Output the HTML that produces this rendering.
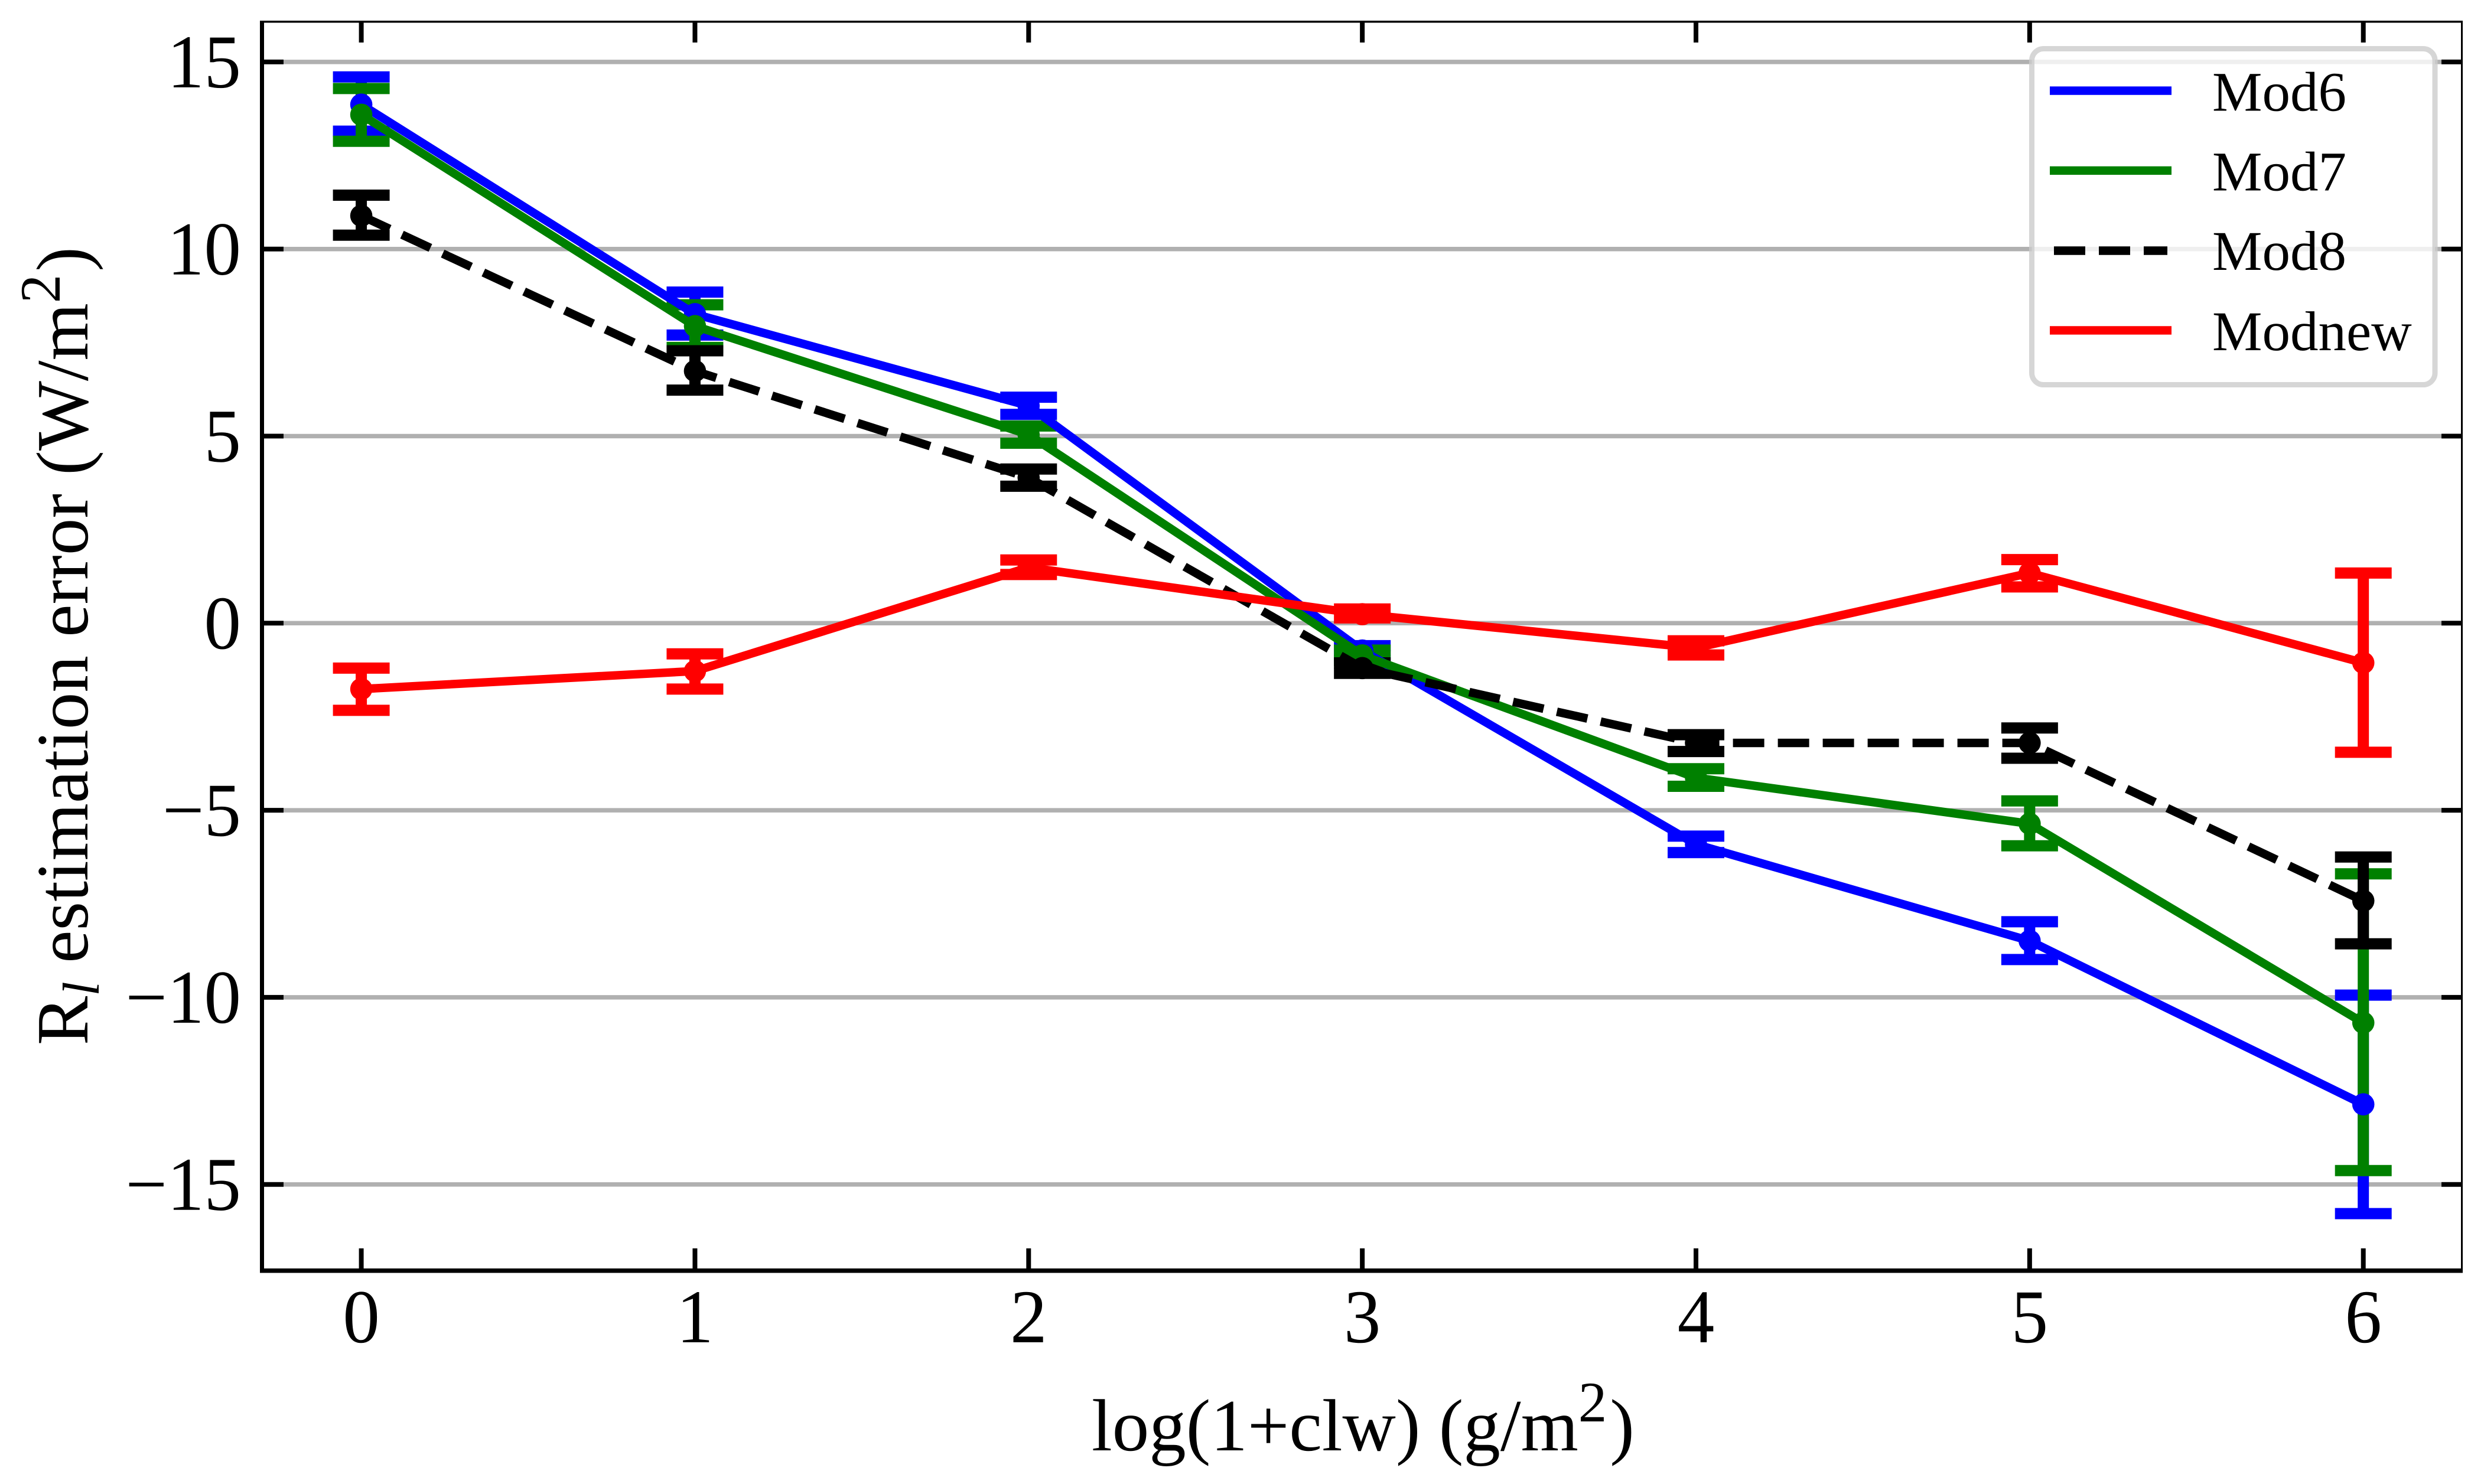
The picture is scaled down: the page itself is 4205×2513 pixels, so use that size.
<!DOCTYPE html>
<html lang="en">
<head>
<meta charset="utf-8">
<title>Rl estimation error vs log(1+clw)</title>
<style>
html,body{margin:0;padding:0;background:#fff;width:4205px;height:2513px;overflow:hidden}
svg{display:block;font-family:"Liberation Serif","DejaVu Serif",serif;text-rendering:geometricPrecision}
</style>
</head>
<body>
<svg xmlns="http://www.w3.org/2000/svg" width="4205" height="2513" viewBox="0 0 4205 2513">
  <rect x="0" y="0" width="4205" height="2513" fill="#ffffff"/>
  <g id="grid-layer"></g>
  <g id="bar-layer"></g>
  <g id="line-layer"></g>
  <g id="tick-layer"></g>
  <g>
    <rect x="440" y="35" width="7" height="2120" fill="#000"/>
    <rect x="440" y="2148" width="3729" height="7.5" fill="#000"/>
    <rect x="440" y="35" width="3729" height="3.5" fill="#000"/>
    <rect x="4166" y="35" width="3" height="2120" fill="#000"/>
  </g>
  <g id="label-layer"></g>
  <text x="1848" y="2456" font-size="125" fill="#000">log(1+clw) (g/m<tspan font-size="97" dy="-49">2</tspan><tspan dy="49" dx="5">)</tspan></text>
  <text transform="translate(148 1770) rotate(-90)" x="0" y="0" font-size="125" fill="#000">R<tspan font-size="88" font-style="italic" dy="19">l</tspan><tspan dy="-19"> estimation error (W/m</tspan><tspan font-size="97" dy="-47">2</tspan><tspan dy="47" dx="5">)</tspan></text>
  <g>
    <rect x="3439.5" y="82.5" width="682.5" height="569" rx="20" ry="20" fill="#ffffff" fill-opacity="0.8" stroke="#cccccc" stroke-opacity="0.8" stroke-width="9"/>
    <line x1="3470" x2="3676" y1="153.6" y2="153.6" stroke="#0000ff" stroke-width="14.4"/>
    <line x1="3470" x2="3676" y1="288.8" y2="288.8" stroke="#008000" stroke-width="14.4"/>
    <line x1="3477" x2="3669" y1="424.5" y2="424.5" stroke="#000000" stroke-width="14.4" stroke-dasharray="53 23"/>
    <line x1="3470" x2="3676" y1="559.4" y2="559.4" stroke="#ff0000" stroke-width="14.4"/>
    <text x="3745" y="187.5" font-size="95" fill="#000">Mod6</text>
    <text x="3745" y="322.3" font-size="95" fill="#000">Mod7</text>
    <text x="3745" y="457" font-size="95" fill="#000">Mod8</text>
    <text x="3745" y="593" font-size="95" fill="#000">Modnew</text>
  </g>
</svg>
<script>
var categories = [0, 1, 2, 3, 4, 5, 6];
var xTickLabels = ["0", "1", "2", "3", "4", "5", "6"];
var yTickValues = [15, 10, 5, 0, -5, -10, -15];
var yTickLabels = ["15", "10", "5", "0", "\u22125", "\u221210", "\u221215"];

var mod6Values = [13.86, 8.26, 5.81, -0.73, -5.91, -8.49, -12.86];
var mod6Low = [13.15, 7.70, 5.58, -0.87, -6.13, -8.99, -15.78];
var mod6High = [14.60, 8.85, 6.04, -0.60, -5.69, -7.98, -9.94];

var mod7Values = [13.59, 7.94, 5.04, -0.86, -4.13, -5.36, -10.68];
var mod7Low = [12.88, 7.37, 4.81, -1.00, -4.36, -5.95, -14.63];
var mod7High = [14.29, 8.51, 5.27, -0.72, -3.89, -4.75, -6.70];

var mod8Values = [10.89, 6.74, 3.89, -1.20, -3.20, -3.20, -7.42];
var mod8Low = [10.37, 6.23, 3.66, -1.34, -3.43, -3.61, -8.57];
var mod8High = [11.44, 7.28, 4.12, -1.06, -2.98, -2.80, -6.25];

var modnewValues = [-1.76, -1.28, 1.49, 0.24, -0.66, 1.34, -1.06];
var modnewLow = [-2.33, -1.76, 1.30, 0.14, -0.85, 0.97, -3.45];
var modnewHigh = [-1.20, -0.82, 1.69, 0.38, -0.47, 1.70, 1.34];

var seriesNames = ["mod6", "mod7", "mod8", "modnew"];
var seriesColors = ["#0000ff", "#008000", "#000000", "#ff0000"];
var seriesValues = [mod6Values, mod7Values, mod8Values, modnewValues];
var seriesLow = [mod6Low, mod7Low, mod8Low, modnewLow];
var seriesHigh = [mod6High, mod7High, mod8High, modnewHigh];

function xPos(v) { return 611.6 + 564.85 * v; }
function yPos(v) { return 1055.3 - 63.36 * v; }

var SVG_NS = "http://www.w3.org/2000/svg";
function make(tag, parent, attrs) {
  var el = document.createElementNS(SVG_NS, tag);
  for (var k in attrs) { el.setAttribute(k, attrs[k]); }
  parent.appendChild(el);
  return el;
}

var gridLayer = document.getElementById("grid-layer");
var barLayer = document.getElementById("bar-layer");
var lineLayer = document.getElementById("line-layer");
var tickLayer = document.getElementById("tick-layer");
var labelLayer = document.getElementById("label-layer");

yTickValues.forEach(function (v, i) {
  var y = yPos(v);
  var grid = make("line", gridLayer, { x1: 445, x2: 4168, y1: y, y2: y, stroke: "#b0b0b0", "stroke-width": 7.5 });
  
  
  var tl = make("line", tickLayer, { x1: 445, x2: 480, y1: y, y2: y, stroke: "#000", "stroke-width": 8 });
  
  
  var tr = make("line", tickLayer, { x1: 4133, x2: 4168, y1: y, y2: y, stroke: "#000", "stroke-width": 8 });
  
  
  var lab = make("text", labelLayer, { transform: "translate(408 " + (y + 43) + ") scale(1 1.03)", "font-size": 125, "text-anchor": "end", fill: "#000" });
  lab.textContent = yTickLabels[i];
  
  
});

categories.forEach(function (c, i) {
  var x = xPos(c);
  var tb = make("line", tickLayer, { x1: x, x2: x, y1: 2114, y2: 2150, stroke: "#000", "stroke-width": 8 });
  
  
  var tt = make("line", tickLayer, { x1: x, x2: x, y1: 36, y2: 72, stroke: "#000", "stroke-width": 8 });
  
  
  var lab = make("text", labelLayer, { transform: "translate(" + x + " 2273) scale(1 1.03)", "font-size": 125, "text-anchor": "middle", fill: "#000" });
  lab.textContent = xTickLabels[i];
  
  
});

seriesNames.forEach(function (name, s) {
  var color = seriesColors[s];
  categories.forEach(function (c, i) {
    var x = xPos(c);
    var hi = yPos(seriesHigh[s][i]);
    var lo = yPos(seriesLow[s][i]);
    var bar = make("line", barLayer, { x1: x, x2: x, y1: hi, y2: lo, stroke: color, "stroke-width": 19 });
    
    
    var capHi = make("line", barLayer, { x1: x - 48, x2: x + 48, y1: hi, y2: hi, stroke: color, "stroke-width": 19 });
    
    
    var capLo = make("line", barLayer, { x1: x - 48, x2: x + 48, y1: lo, y2: lo, stroke: color, "stroke-width": 19 });
    
    
  });
});

seriesNames.forEach(function (name, s) {
  var color = seriesColors[s];
  var pts = categories.map(function (c, i) {
    return xPos(c).toFixed(1) + "," + yPos(seriesValues[s][i]).toFixed(1);
  }).join(" ");
  var attrs = { points: pts, fill: "none", stroke: color, "stroke-width": 14.4, "stroke-linejoin": "round" };
  if (name === "mod8") { attrs["stroke-dasharray"] = "53 23"; }
  var line = make("polyline", lineLayer, attrs);
  
  
  categories.forEach(function (c, i) {
    var dot = make("circle", lineLayer, { cx: xPos(c), cy: yPos(seriesValues[s][i]), r: 18.8, fill: color });
    
    
  });
});
</script>
</body>
</html>
